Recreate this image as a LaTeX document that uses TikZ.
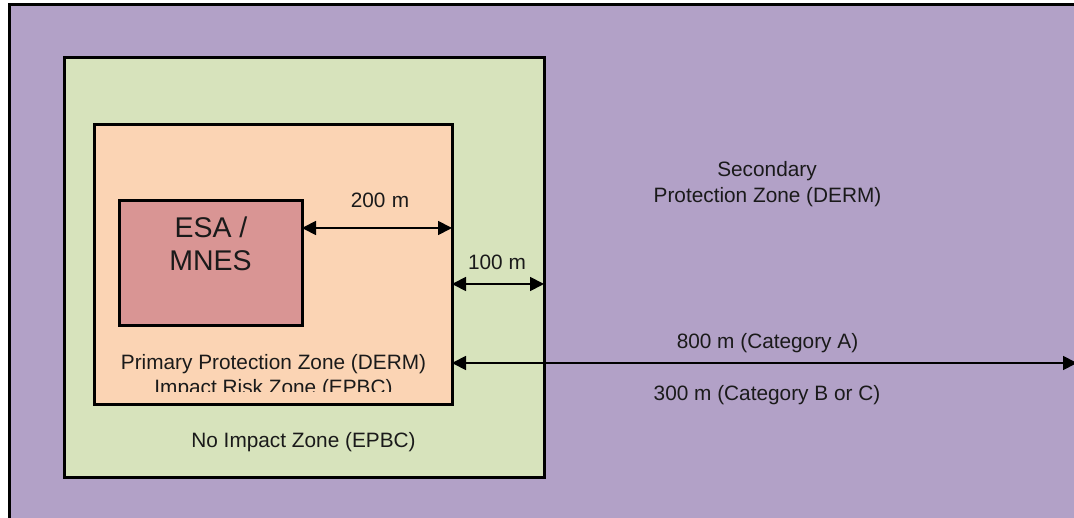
\documentclass[tikz,border=0pt]{standalone}
\usepackage{fontspec}
\setmainfont{Liberation Sans}
\usetikzlibrary{arrows.meta}
\definecolor{purplez}{HTML}{B2A1C7}
\definecolor{greenz}{HTML}{D7E3BC}
\definecolor{orangez}{HTML}{FBD4B4}
\definecolor{rosez}{HTML}{D99594}
\definecolor{txt}{HTML}{1A1A1A}
\begin{document}
\begin{tikzpicture}[x=1pt,y=-1pt,
  zone/.style={draw=black, line width=3pt, inner sep=0pt, outer sep=0pt, anchor=north west},
  lbl/.style={font=\fontsize{20.8}{26}\selectfont, text=txt, inner sep=0pt, anchor=base},
  big/.style={font=\fontsize{28.5}{33}\selectfont, text=txt, inner sep=0pt, anchor=base},
  dim/.style={line width=1.8pt, {Triangle[length=14pt,width=14pt]}-{Triangle[length=14pt,width=14pt]}}]
\fill[white] (0,0) rectangle (1074,518);
\useasboundingbox (0,0) rectangle (1074,518);
\begin{scope}
\clip (0,0) rectangle (1074,518);
\node[zone, fill=purplez, minimum width=1100pt, minimum height=560pt] (outer) at (9.5,5) {};
\node[zone, fill=greenz, minimum width=480pt, minimum height=420pt] (green) at (64,57.5) {};
\node[zone, fill=orangez, minimum width=358pt, minimum height=280pt] (orange) at (94,125) {};
\node[zone, fill=rosez, minimum width=183pt, minimum height=125pt] (esa) at (119,201) {};

% arrow end points
\coordinate (a200s) at (302,228);
\coordinate (a200e) at (452,228);
\coordinate (a100s) at (452,284);
\coordinate (a100e) at (544,284);
\coordinate (a800s) at (452,363);
\coordinate (a800e) at (1077,363);
\draw[dim] (a200s) -- (a200e);
\draw[dim] (a100s) -- (a100e);
\draw[dim] (a800s) -- (a800e);

% labels
\node[big] (esa1) at (211,237.7) {ESA /};
\node[big] (esa2) at (210.5,270.7) {MNES};
\node[lbl] (d200) at (380,208) {200\hspace{0.3em}m};
\node[lbl] (d100) at (497,270) {100 m};
\node[lbl] (sec1) at (767,176.7) {Secondary};
\node[lbl] (sec2) at (767.5,202.7) {Protection Zone (DERM)};
\node[lbl] (d800) at (767.5,348.3) {800 m (Category A)};
\node[lbl] (d300) at (767,400.7) {300 m (Category B or C)};
\node[lbl] (prim) at (273.5,370) {Primary Protection Zone (DERM)};
\begin{scope}
\clip (0,0) rectangle (1074,392);
\node[lbl] (risk) at (273.5,395) {Impact Risk Zone (EPBC)};
\end{scope}
\node[lbl] (noimp) at (303.5,448) {No Impact Zone (EPBC)};
\end{scope}
\end{tikzpicture}
\end{document}
